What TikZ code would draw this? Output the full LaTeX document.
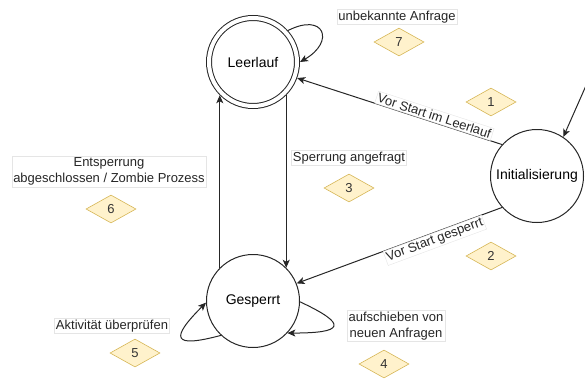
\documentclass[tikz,border=0pt]{standalone}
\usepackage{fontspec}
\setmainfont{Liberation Sans}
\usetikzlibrary{arrows.meta,automata,positioning,shapes.geometric}
\definecolor{badgefill}{HTML}{FFF2CC}
\definecolor{badgeline}{HTML}{D6B656}

\begin{document}
\begin{tikzpicture}[x=1pt,y=1pt,->,>={Stealth[length=8pt,width=7pt,inset=2pt]},line width=1pt,auto,draw=black!85,
	font=\fontsize{13}{16}\selectfont,
	state/.style={draw=black!85,circle,minimum size=93pt,inner sep=0pt,font=\fontsize{14}{16}\selectfont},
	idle/.style={state,minimum size=88pt,outer sep=3pt,double,double distance=4pt},
	tag/.style={draw=black!10,line width=0.4pt,fill=white,inner sep=1.5pt,align=center,text=black!85},
	badge/.style={diamond,draw=badgeline,fill=badgefill,line width=0.6pt,minimum width=50pt,minimum height=28pt,inner sep=0pt,text=black!80}]
	\clip (0,0) rectangle (585,381);

	\node[idle]		(leer)	at (253,319)	{Leerlauf};
	\node[state]	(gesp)	at (253,80)		{Gesperrt};
	\node[state]	(init)	at (537,205)	{Initialisierung};
	\coordinate		(ein)	at (592,309);

	% Nummern
	\node[badge]	(b1)	at (491,279)	{1};
	\node[badge]	(b2)	at (491,125)	{2};
	\node[badge]	(b3)	at (349,193)	{3};
	\node[badge]	(b4)	at (384,17)		{4};
	\node[badge]	(b5)	at (135,28)		{5};
	\node[badge]	(b6)	at (111,172)	{6};
	\node[badge]	(b7)	at (399,339)	{7};

	% Beschriftungen
	\node[tag]		(l7)	at (397,364)	{unbekannte Anfrage};
	\node[tag]		(l6)	at (109,209.5)	{Entsperrung\\abgeschlossen / Zombie Prozess};
	\node[tag]		(l3)	at (349,223)	{Sperrung angefragt};
	\node[tag]		(l5)	at (112,55)		{Aktivität überprüfen};
	\node[tag]		(l4)	at (396,55)		{aufschieben von\\neuen Anfragen};

	\path
		(ein)		edge									(init.56)
		(init.138)	edge	node[tag,pos=0.34,sloped,above]	{Vor Start im Leerlauf}	(leer.-20)
		(init.222)	edge	node[tag,pos=0.34,sloped,below]	{Vor Start gesperrt}	(gesp.22)
		(leer.-45)	edge									(gesp.45)
		(gesp.135)	edge									(leer.-135)
		(leer.42)	edge	[out=27,in=30,looseness=3.1]	(leer.0)
		(gesp.227)	edge	[out=195,in=225,looseness=3.6]	(gesp.182)
		(gesp.-1)	edge	[out=-25,in=0,looseness=4.2]	(gesp.-43)
	;
\end{tikzpicture}
\end{document}
